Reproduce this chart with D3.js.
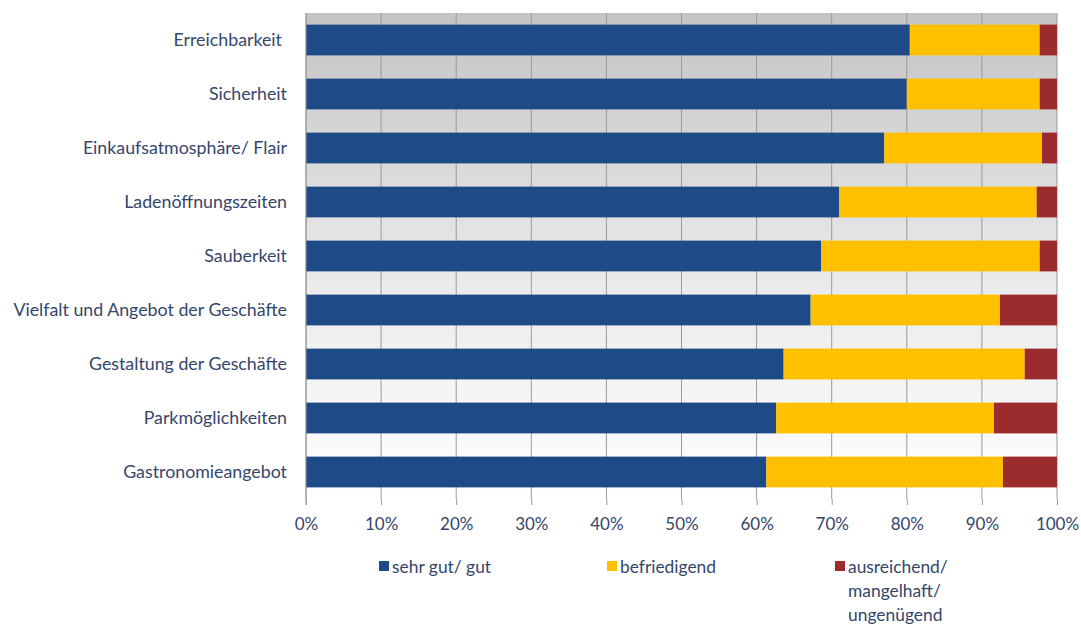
<!DOCTYPE html>
<html>
<head>
<meta charset="utf-8">
<script src="https://cdn.jsdelivr.net/npm/d3@7"></script>
<style>
  html, body { margin: 0; padding: 0; background: #ffffff; }
  svg { display: block; }
  text { font-family: Lato, "Open Sans", sans-serif; fill: #34466b; }
</style>
</head>
<body>
<svg id="chart" width="1081" height="624"></svg>
<script>
// Bewertung der Innenstadt – Anteile je Merkmal (%)
const categories = [
  "Erreichbarkeit",
  "Sicherheit",
  "Einkaufsatmosphäre/ Flair",
  "Ladenöffnungszeiten",
  "Sauberkeit",
  "Vielfalt und Angebot der Geschäfte",
  "Gestaltung der Geschäfte",
  "Parkmöglichkeiten",
  "Gastronomieangebot"
];
const sehrGutGut    = [80.4, 80.0, 77.0, 71.0, 68.6, 67.2, 63.6, 62.6, 61.3];
const befriedigend  = [17.3, 17.7, 21.0, 26.3, 29.1, 25.2, 32.1, 29.0, 31.5];
const ausreichend   = [ 2.3,  2.3,  2.0,  2.7,  2.3,  7.6,  4.3,  8.4,  7.2];
const seriesNames = ["sehr gut/ gut", "befriedigend", "ausreichend/ mangelhaft/ ungenügend"];
const tickValues = [0, 10, 20, 30, 40, 50, 60, 70, 80, 90, 100];

const colors = ["#1f4a88", "#ffc000", "#9c2b2e"];
const legendLines = [["sehr gut/ gut"], ["befriedigend"], ["ausreichend/", "mangelhaft/", "ungenügend"]];

const svg = d3.select("#chart");
const margin = { left: 306, right: 24, top: 13, bottom: 125 };
const W = 1081, H = 624;
const plotW = W - margin.left - margin.right;
const plotH = H - margin.top - margin.bottom;

const rows = categories.map((c, i) => ({
  cat: c,
  vals: [sehrGutGut[i], befriedigend[i], ausreichend[i]]
}));
const stack = d3.stack().keys([0, 1, 2]).value((d, k) => d.vals[k]);
const stacked = stack(rows);

const x = d3.scaleLinear().domain([0, 100]).range([0, plotW]);
const y = d3.scaleBand().domain(categories).range([0, plotH]).paddingInner(0.43).paddingOuter(0.215);

// plot background gradient
const defs = svg.append("defs");
const grad = defs.append("linearGradient").attr("id", "bg").attr("x1", 0).attr("y1", 0).attr("x2", 0).attr("y2", 1);
grad.append("stop").attr("offset", "0%").attr("stop-color", "#c4c4c4");
grad.append("stop").attr("offset", "55%").attr("stop-color", "#eaeaea");
grad.append("stop").attr("offset", "100%").attr("stop-color", "#ffffff");

const g = svg.append("g").attr("transform", `translate(${margin.left},${margin.top})`);

g.append("rect").attr("x", 0).attr("y", 0).attr("width", plotW).attr("height", plotH).attr("fill", "url(#bg)");

// vertical gridlines (behind the bars)
g.append("g").selectAll("line").data(tickValues).join("line")
  .attr("x1", d => x(d)).attr("x2", d => x(d))
  .attr("y1", 0).attr("y2", plotH)
  .attr("stroke", "#9a9a9a").attr("stroke-width", 1);

// bars
g.append("g").selectAll("g").data(stacked).join("g")
  .attr("fill", (d, i) => colors[i])
  .selectAll("rect").data(d => d).join("rect")
  .attr("x", d => x(d[0]))
  .attr("width", d => x(d[1]) - x(d[0]))
  .attr("y", d => y(d.data.cat))
  .attr("height", y.bandwidth());

// x axis
const xAxis = g.append("g").attr("transform", `translate(0,${plotH})`)
  .call(d3.axisBottom(x).tickValues(tickValues).tickFormat(d => d + "%").tickSize(6).tickPadding(13));
xAxis.select(".domain").remove();
xAxis.selectAll(".tick line").attr("stroke", "#9a9a9a");
xAxis.selectAll("text").attr("font-size", 17).style("font-family", "Lato, sans-serif").attr("fill", "#34466b");

// y axis line
g.append("line").attr("x1", 0).attr("x2", 0).attr("y1", 0).attr("y2", plotH + 6).attr("stroke", "#9a9a9a");

// category labels
g.append("g").selectAll("text").data(categories).join("text")
  .attr("x", (d, i) => i === 0 ? -24 : -19)
  .attr("y", d => y(d) + y.bandwidth() / 2)
  .attr("dy", "0.35em")
  .attr("text-anchor", "end")
  .attr("font-size", 17.8)
  .text(d => d);

// legend
const legendX = [379, 607, 835];
const legend = svg.append("g");
legendLines.forEach((lines, i) => {
  legend.append("rect").attr("x", legendX[i]).attr("y", 561).attr("width", 10).attr("height", 10).attr("fill", colors[i]);
  lines.forEach((t, j) => {
    legend.append("text").attr("x", legendX[i] + 13).attr("y", 567 + j * 24).attr("dy", "0.35em")
      .attr("font-size", 17.4).text(t);
  });
});
</script>
</body>
</html>
